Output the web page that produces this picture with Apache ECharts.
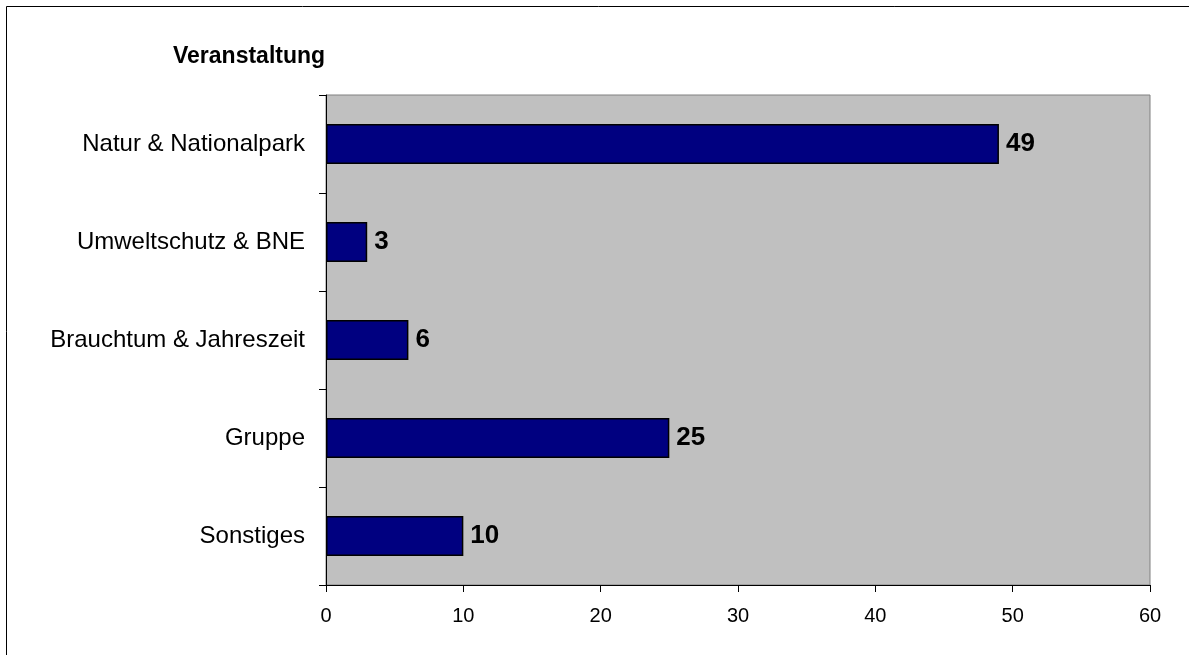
<!DOCTYPE html>
<html><head><meta charset="utf-8">
<script src="https://cdn.jsdelivr.net/npm/echarts@6/dist/echarts.min.js"></script>
<style>html,body{margin:0;padding:0;background:#fff;}#c{width:1189px;height:655px;}</style>
</head><body><div id="c"></div>
<script>
var categories = ["Natur & Nationalpark", "Umweltschutz & BNE", "Brauchtum & Jahreszeit", "Gruppe", "Sonstiges"];
var values = [49, 3, 6, 25, 10];
var xTicks = [0, 10, 20, 30, 40, 50, 60];

var chart = echarts.init(document.getElementById('c'));
chart.setOption({
  animation: false,
  graphic: [{type: 'rect', shape: {x: 6.5, y: 6.5, width: 1300, height: 800}, style: {fill: 'none', stroke: '#000', lineWidth: 1}, silent: true}],
  title: {text: 'Veranstaltung', left: 168, top: 40, textStyle: {fontFamily: 'Liberation Sans', fontWeight: 'bold', fontSize: 23, color: '#000'}},
  grid: {left: 326, right: 39, top: 95, bottom: 70, show: true, backgroundColor: '#C0C0C0', borderColor: '#808080', borderWidth: 1},
  xAxis: {type: 'value', min: xTicks[0], max: xTicks[xTicks.length - 1], interval: 10,
    axisLine: {show: true, lineStyle: {color: '#000'}},
    axisTick: {show: true, length: 7, lineStyle: {color: '#000'}},
    splitLine: {show: false},
    axisLabel: {margin: 21, fontFamily: 'Liberation Sans', fontSize: 20, color: '#000'}},
  yAxis: {type: 'category', data: categories, inverse: true,
    axisLine: {show: true, lineStyle: {color: '#000'}},
    axisTick: {show: true, length: 7, lineStyle: {color: '#000'}},
    axisLabel: {margin: 21, fontFamily: 'Liberation Sans', fontSize: 24, color: '#000'}},
  series: [{type: 'bar', data: values, barWidth: 40,
    itemStyle: {color: '#000080', borderColor: '#000', borderWidth: 1.5},
    label: {show: true, position: 'right', distance: 7, fontFamily: 'Liberation Sans', fontWeight: 'bold', fontSize: 26, color: '#000'}}]
});
</script></body></html>
